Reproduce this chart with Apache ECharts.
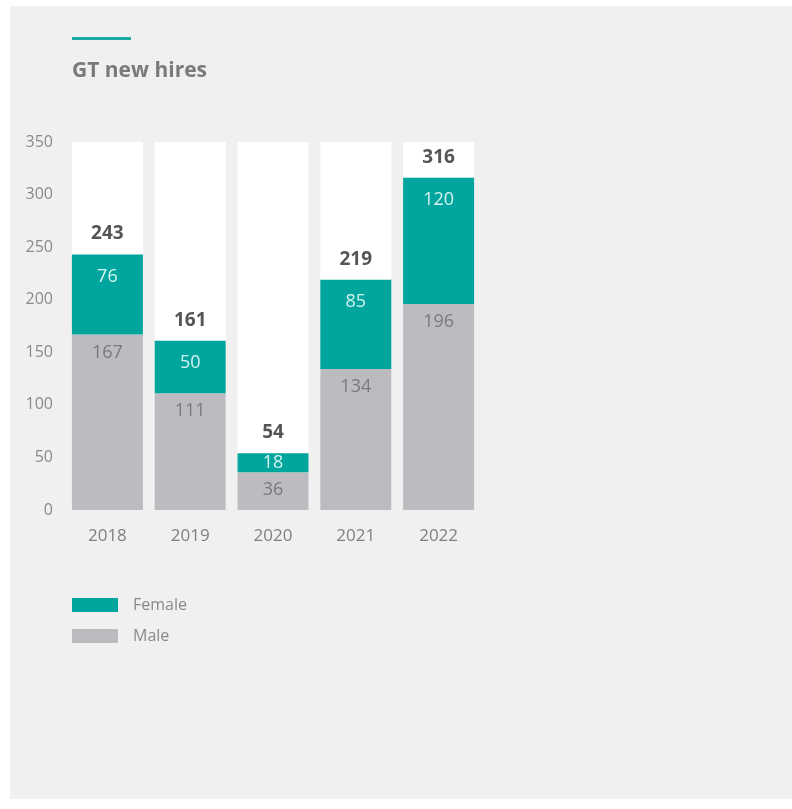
<!DOCTYPE html>
<html>
<head>
<meta charset="utf-8">
<script src="https://cdn.jsdelivr.net/npm/echarts@6/dist/echarts.min.js"></script>
<style>
  html, body { margin: 0; padding: 0; background: #ffffff; }
  #chart { width: 792px; height: 809px; }
</style>
</head>
<body>
<div id="chart"></div>
<script>
// GT new hires by year, split by gender
const years = ['2018', '2019', '2020', '2021', '2022'];
const male = [167, 111, 36, 134, 196];
const female = [76, 50, 18, 85, 120];
const totals = [243, 161, 54, 219, 316];
const yTicks = { min: 0, max: 350, interval: 50 };

const chart = echarts.init(document.getElementById('chart'), null, { renderer: 'canvas' });
const font = '"Open Sans", "Noto Sans", sans-serif';

// thin segments get their label centred rather than pinned to the top edge
const femaleData = female.map(v => v < 30
  ? { value: v, label: { position: 'inside', distance: 0 } }
  : v);

chart.setOption({
  backgroundColor: '#ffffff',
  animation: false,
  graphic: [
    { type: 'rect', left: 10, top: 6, shape: { width: 782, height: 793 }, style: { fill: '#f0f0f0' }, z: -10 },
    { type: 'rect', left: 72, top: 37, shape: { width: 59, height: 3 }, style: { fill: '#1aa9a3' } },
    { type: 'text', left: 72, top: 61, style: { text: 'GT new hires', fill: '#7a7a7a', font: 'bold 21px ' + font } }
  ],
  grid: { left: 66, right: 312, top: 142, bottom: 299, containLabel: false },
  legend: {
    data: ['Female', 'Male'],
    orient: 'vertical',
    left: 67,
    top: 592,
    icon: 'rect',
    itemWidth: 46,
    itemHeight: 14,
    itemGap: 15,
    textStyle: { color: '#8a8a8a', fontSize: 16, fontFamily: font, padding: [0, 0, 0, 10] }
  },
  xAxis: {
    type: 'category',
    data: years,
    axisLine: { show: false },
    axisTick: { show: false },
    axisLabel: { color: '#7f7f7f', fontSize: 17, fontFamily: font, margin: 18 }
  },
  yAxis: {
    type: 'value',
    min: yTicks.min,
    max: yTicks.max,
    interval: yTicks.interval,
    splitLine: { show: false },
    axisLine: { show: false },
    axisTick: { show: false },
    axisLabel: { color: '#8a8a8a', fontSize: 16, fontFamily: font, margin: 13 }
  },
  series: [
    {
      name: 'Male',
      type: 'bar',
      stack: 'hires',
      data: male,
      barWidth: 71,
      barGap: '-100%',
      showBackground: true,
      backgroundStyle: { color: '#ffffff' },
      itemStyle: { color: '#bbbbc0' },
      label: { show: true, position: 'insideTop', distance: 9, color: '#7a7a7e', fontSize: 18, fontFamily: font }
    },
    {
      name: 'Female',
      type: 'bar',
      stack: 'hires',
      data: femaleData,
      barWidth: 71,
      barGap: '-100%',
      itemStyle: { color: '#00a69d' },
      label: { show: true, position: 'insideTop', distance: 13, color: '#d6f3f1', fontSize: 18, fontFamily: font }
    },
    {
      name: 'Total',
      type: 'bar',
      data: totals,
      barWidth: 71,
      barGap: '-100%',
      silent: true,
      itemStyle: { color: 'rgba(0,0,0,0)' },
      label: { show: true, position: 'top', distance: 11, color: '#555555', fontSize: 19, fontWeight: 'bold', fontFamily: font }
    }
  ]
});
</script>
</body>
</html>
